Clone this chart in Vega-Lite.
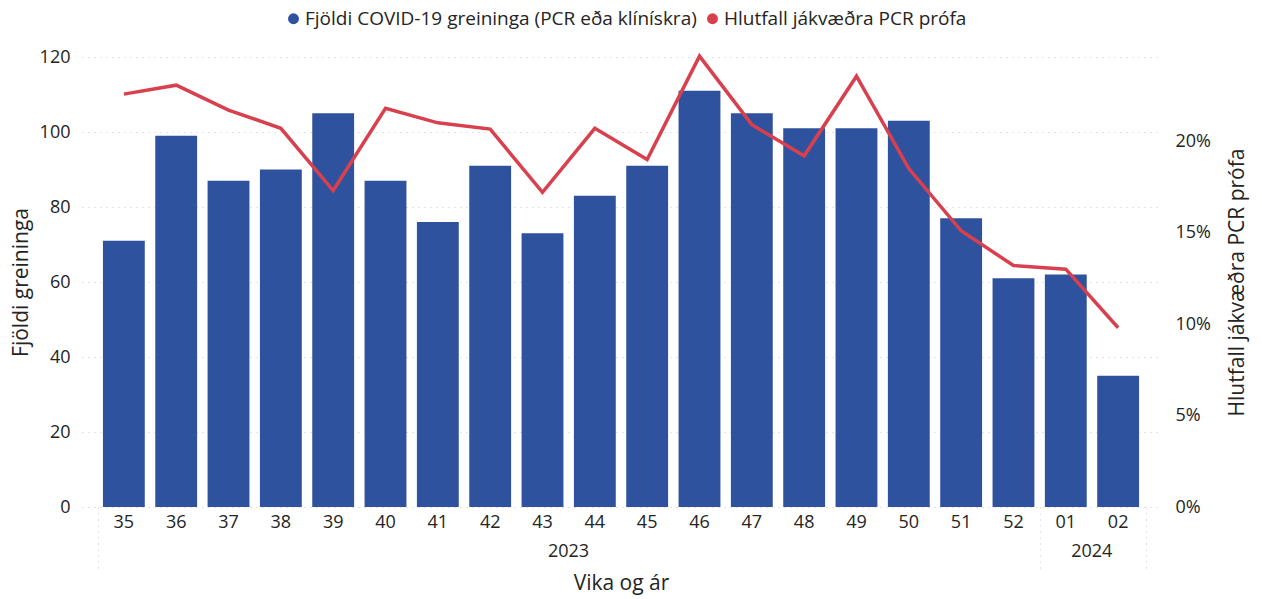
{
  "$schema": "https://vega.github.io/schema/vega-lite/v6.json",
  "width": 1078,
  "height": 450,
  "autosize": {"type": "none"},
  "padding": {"left": 82, "top": 57, "right": 102, "bottom": 92},
  "background": "white",
  "config": {
    "view": {"stroke": null},
    "font": "Open Sans",
    "axis": {"labelFont": "Open Sans", "titleFont": "Open Sans", "labelColor": "#252423", "titleColor": "#252423", "labelFontSize": 18, "titleFontSize": 21, "titleFontWeight": "normal"}
  },
  "data": {
    "values": [
      {"week": "35", "year": "2023", "count": 71, "pct": 0.2257},
      {"week": "36", "year": "2023", "count": 99, "pct": 0.2306},
      {"week": "37", "year": "2023", "count": 87, "pct": 0.217},
      {"week": "38", "year": "2023", "count": 90, "pct": 0.207},
      {"week": "39", "year": "2023", "count": 105, "pct": 0.173},
      {"week": "40", "year": "2023", "count": 87, "pct": 0.218},
      {"week": "41", "year": "2023", "count": 76, "pct": 0.21},
      {"week": "42", "year": "2023", "count": 91, "pct": 0.2066},
      {"week": "43", "year": "2023", "count": 73, "pct": 0.172},
      {"week": "44", "year": "2023", "count": 83, "pct": 0.207},
      {"week": "45", "year": "2023", "count": 91, "pct": 0.19},
      {"week": "46", "year": "2023", "count": 111, "pct": 0.2465},
      {"week": "47", "year": "2023", "count": 105, "pct": 0.209},
      {"week": "48", "year": "2023", "count": 101, "pct": 0.192},
      {"week": "49", "year": "2023", "count": 101, "pct": 0.2355},
      {"week": "50", "year": "2023", "count": 103, "pct": 0.185},
      {"week": "51", "year": "2023", "count": 77, "pct": 0.151},
      {"week": "52", "year": "2023", "count": 61, "pct": 0.132},
      {"week": "01", "year": "2024", "count": 62, "pct": 0.13},
      {"week": "02", "year": "2024", "count": 35, "pct": 0.098}
    ]
  },
  "layer": [
    {
      "mark": {"type": "bar", "color": "#2F529F"},
      "encoding": {
        "x": {
          "field": "week", "type": "nominal", "sort": null,
          "scale": {"paddingInner": 0.2, "paddingOuter": 0.4},
          "axis": {"orient": "bottom", "title": null, "labelAngle": 0, "ticks": false, "domain": false, "labelPadding": 6}
        },
        "y": {
          "field": "count", "type": "quantitative",
          "scale": {"domain": [0, 120], "nice": false},
          "axis": {"title": "Fjöldi greininga", "values": [0, 20, 40, 60, 80, 100, 120], "domain": false, "ticks": false, "labelPadding": 12, "titlePadding": 8, "grid": true, "gridColor": "#C8C8C8", "gridDash": [1, 5], "gridWidth": 1}
        },
        "color": {
          "datum": "Fjöldi COVID-19 greininga (PCR eða klínískra)",
          "type": "nominal",
          "scale": {"domain": ["Fjöldi COVID-19 greininga (PCR eða klínískra)", "Hlutfall jákvæðra PCR prófa"], "range": ["#2F529F", "#D9404E"]},
          "legend": {"orient": "none", "legendX": 202, "legendY": -48, "direction": "horizontal", "title": null, "symbolType": "circle", "symbolSize": 120, "labelFontSize": 19, "labelFont": "Open Sans", "labelColor": "#252423", "labelOffset": 2, "columnPadding": 6, "symbolStrokeWidth": 0, "labelLimit": 0}
        }
      }
    },
    {
      "mark": {"type": "line", "color": "#D9404E", "strokeWidth": 3.5, "clip": false},
      "encoding": {
        "x": {
          "field": "week", "type": "nominal", "sort": null,
          "axis": {"orient": "bottom", "title": "Vika og ár", "titlePadding": 12, "labelAngle": 0, "domain": false, "ticks": false, "values": ["43", "01"], "labelExpr": "datum.value == '43' ? '2023' : '2024'", "labelOffset": 26, "labelPadding": 35}
        },
        "y": {
          "field": "pct", "type": "quantitative",
          "scale": {"domain": [0, 0.246], "nice": false},
          "axis": {"orient": "right", "title": "Hlutfall jákvæðra PCR prófa", "titleAngle": 270, "titleBaseline": "top", "format": ".0%", "values": [0, 0.05, 0.1, 0.15, 0.2], "domain": false, "ticks": false, "grid": false, "labelPadding": 15, "titlePadding": 16}
        },
        "color": {"datum": "Hlutfall jákvæðra PCR prófa", "type": "nominal"}
      }
    },
    {
      "mark": {"type": "point", "opacity": 0},
      "encoding": {
        "x": {
          "field": "week", "type": "nominal", "sort": null,
          "axis": {"orient": "bottom", "title": null, "labels": false, "domain": false, "values": ["35", "01"], "tickOffset": -26, "tickSize": 65, "tickColor": "#C8C8C8", "tickDash": [1, 5], "tickWidth": 1}
        }
      }
    },
    {
      "mark": {"type": "point", "opacity": 0},
      "encoding": {
        "x": {
          "field": "week", "type": "nominal", "sort": null,
          "axis": {"orient": "bottom", "title": null, "labels": false, "domain": false, "values": ["02"], "tickOffset": 28, "tickSize": 65, "tickColor": "#C8C8C8", "tickDash": [1, 5], "tickWidth": 1}
        }
      }
    }
  ],
  "resolve": {"scale": {"y": "independent"}, "axis": {"x": "independent"}}
}
